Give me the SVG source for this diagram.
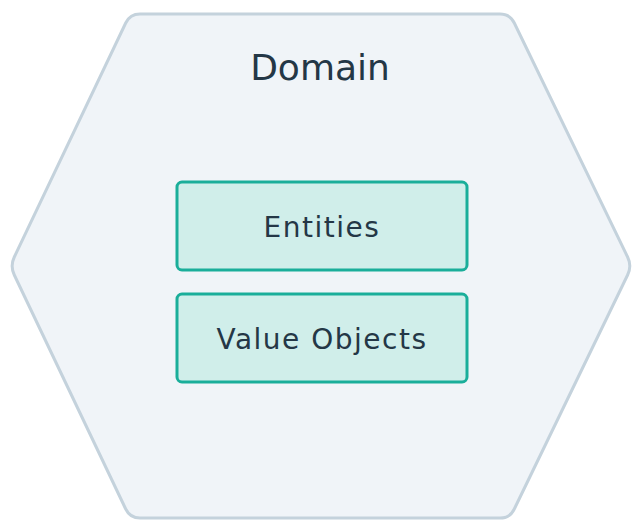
<svg xmlns="http://www.w3.org/2000/svg" width="640" height="531" viewBox="0 0 640 531">
<style>
.box{fill:#d0eeea;stroke:#1aae9a;stroke-width:3}
.t{font-family:"DejaVu Sans",sans-serif;fill:#243746;text-anchor:middle}
.b{letter-spacing:1.5px}
</style>
<g id="domain">
<path d="M140,14 L500,14 Q510,14 514.3,23 L627.6,257 Q632,266 627.6,275 L514.3,509 Q510,518 500,518 L140,518 Q130,518 125.7,509 L14.3,275 Q10,266 14.3,257 L125.7,23 Q130,14 140,14 Z" fill="#f0f4f8" stroke="#c4d2dc" stroke-width="3"/>
<text class="t" x="320" y="80" font-size="36">Domain</text>
</g>
<g id="entities">
<rect class="box" x="177" y="182" width="290" height="88" rx="5"/>
<text class="t b" x="322" y="237" font-size="28">Entities</text>
</g>
<g id="value-objects">
<rect class="box" x="177" y="294" width="290" height="88" rx="5"/>
<text class="t b" x="322" y="349" font-size="28">Value Objects</text>
</g>
<g id="connectors"/>
</svg>
